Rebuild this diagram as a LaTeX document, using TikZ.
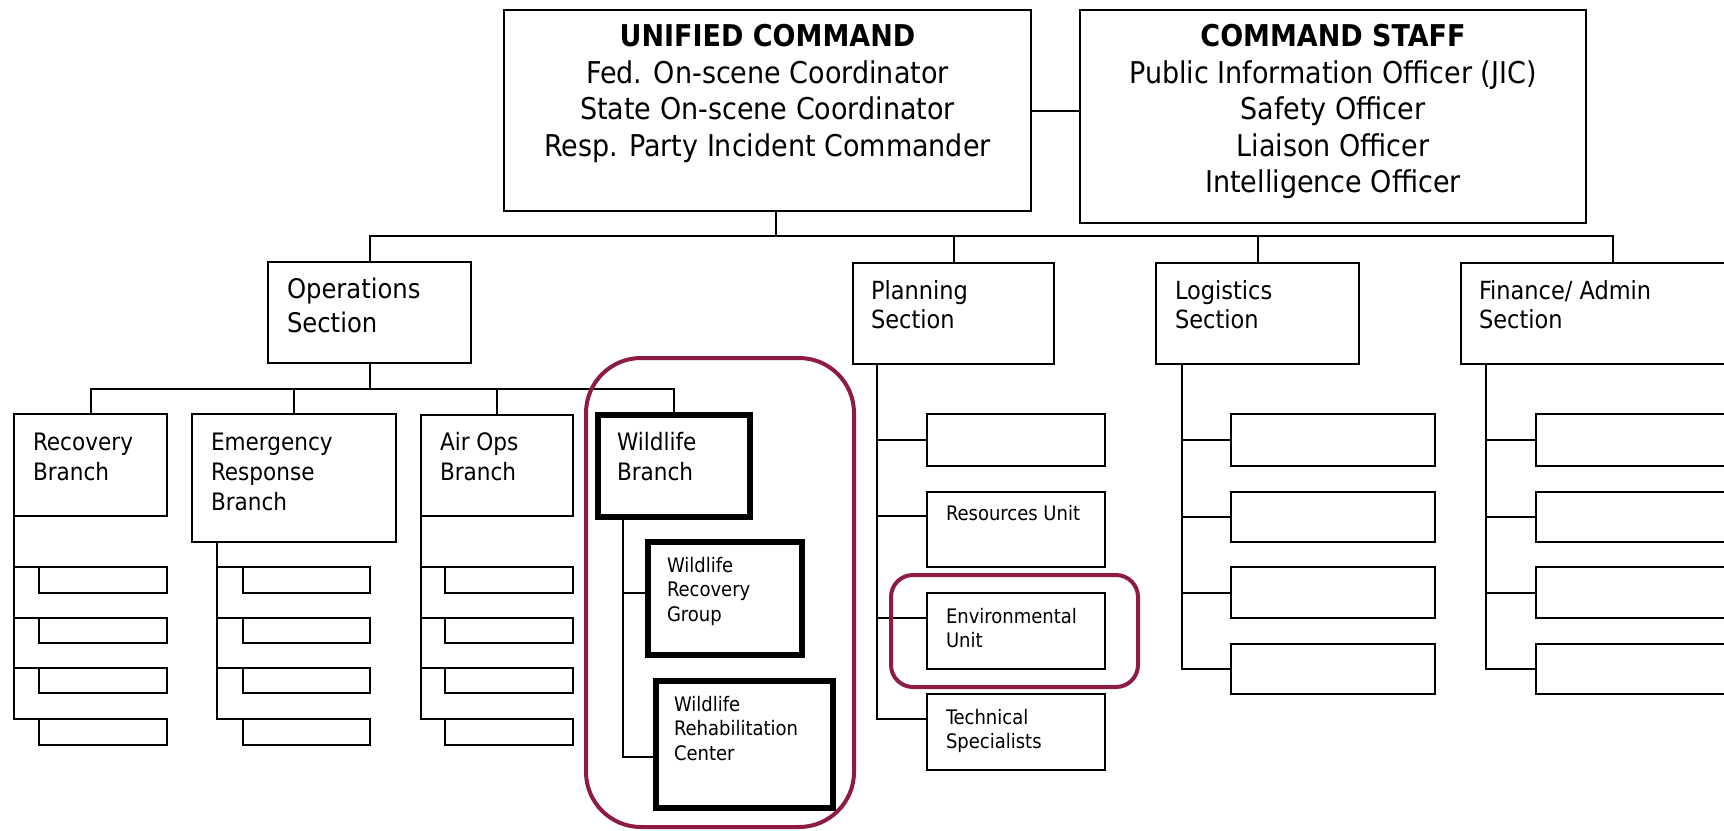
\documentclass[tikz,border=0pt]{standalone}
\usepackage{fontspec}
\setmainfont{DejaVu Sans Condensed}
\definecolor{maroon}{RGB}{142,27,64}
\newcommand\fTop{\fontsize{30}{36.5}\selectfont}
\newcommand\fOps{\fontsize{27}{34}\selectfont}
\newcommand\fSec{\fontsize{25}{29}\selectfont}
\newcommand\fBr{\fontsize{24}{30}\selectfont}
\newcommand\fUnit{\fontsize{20}{23.5}\selectfont}
\newcommand\fGrp{\fontsize{20}{24.5}\selectfont}
\newcommand\mybox[6][]{\node[box,#1,anchor=north west,minimum width={(#5-#3)*1pt},minimum height={(#6-#4)*1pt}] (#2) at (#3,#4) {};}
\begin{document}
\begin{tikzpicture}[x=1pt,y=-1pt,
  box/.style={draw,line width=2.6pt,inner sep=0pt,outer sep=0pt},
  thin/.style={line width=2.2pt},
  thick/.style={line width=5.5pt},
  hl/.style={draw=maroon,line width=4pt,rounded corners=#1},
  conn/.style={draw,line width=2pt},
  tx/.style={anchor=north west,inner sep=0pt,outer sep=0pt,align=left},
  tc/.style={anchor=north,inner sep=0pt,outer sep=0pt,align=center,font=\fTop}]
\useasboundingbox (0,0) rectangle (1724,830);
\clip (0,0) rectangle (1724,830);
% top boxes
\mybox{uc}{504}{10}{1031}{211}
\mybox{cs}{1080}{10}{1586}{223}
\node[tc] (uct) at (767.5,21) {\strut\textbf{UNIFIED COMMAND}\\Fed. On-scene Coordinator\\State On-scene Coordinator\\Resp. Party Incident Commander};
\node[tc] (cst) at (1333,21) {\strut\textbf{COMMAND STAFF}\\Public Information Officer (JIC)\\Safety Officer\\Liaison Officer\\Intelligence Officer};
% sections
\mybox{ops}{268}{262}{471}{363}
\mybox{pln}{853}{263}{1054}{364}
\mybox{lgs}{1156}{263}{1359}{364}
\mybox{fin}{1461}{263}{1765}{364}
\node[tx,font=\fOps] (opst) at (287,274.2) {\strut Operations\\Section};
\node[tx,font=\fSec] (plnt) at (871,278.7) {\strut Planning\\Section};
\node[tx,font=\fSec] (lgst) at (1175,278.7) {\strut Logistics\\Section};
\node[tx,font=\fSec] (fint) at (1479,278.7) {\strut Finance/ Admin\\Section};
% top connectors
\coordinate (j0) at (776,236);
\draw[conn] (j0 |- uc.south) -- (j0);
\draw[conn] (uc.east) -- (uc.east -| cs.west);
\draw[conn] (ops.north) -- (ops.north |- j0) -- (fin.north |- j0) -- (fin.north);
\draw[conn] (pln.north) -- (pln.north |- j0);
\draw[conn] (lgs.north) -- (lgs.north |- j0);
% branches
\mybox{rec}{14}{414}{167}{516}
\mybox{emg}{192}{414}{396}{542}
\mybox{air}{421}{415}{573}{516}
\mybox[thick]{wb}{598}{415}{750}{517}
\node[tx,font=\fBr] (rect) at (33,429) {\strut Recovery\\Branch};
\node[tx,font=\fBr] (emgt) at (211,429) {\strut Emergency\\Response\\Branch};
\node[tx,font=\fBr] (airt) at (440,429) {\strut Air Ops\\Branch};
\node[tx,font=\fBr] (wbt) at (617,429) {\strut Wildlife\\Branch};
\coordinate (j1) at (369.5,389);
\draw[conn] (ops.south) -- (j1);
\draw[conn] (rec.north) -- (rec.north |- j1) -- (wb.north |- j1) -- (wb.north);
\draw[conn] (emg.north) -- (emg.north |- j1);
\draw[conn] (air.north) -- (air.north |- j1);
% branch sub boxes
\foreach \n/\a/\b in {1/567/593,2/618/643,3/668/693,4/719/745}{
  \mybox[thin]{r\n}{39}{\a}{167}{\b}
  \mybox[thin]{e\n}{243}{\a}{370}{\b}
  \mybox[thin]{a\n}{445}{\a}{573}{\b}
}
\draw[conn] (rec.south west) -- (rec.south west |- r4.north west) -- (r4.north west);
\foreach \n in {1,2,3}{\draw[conn] (rec.south west |- r\n.north west) -- (r\n.north west);}
\coordinate (ev) at (217,542);
\draw[conn] (ev) -- (ev |- e4.north west) -- (e4.north west);
\foreach \n in {1,2,3}{\draw[conn] (ev |- e\n.north west) -- (e\n.north west);}
\draw[conn] (air.south west) -- (air.south west |- a4.north west) -- (a4.north west);
\foreach \n in {1,2,3}{\draw[conn] (air.south west |- a\n.north west) -- (a\n.north west);}
% wildlife
\mybox[thick]{wrg}{648}{542}{802}{655}
\mybox[line width=6pt]{wrc}{656}{681}{833}{808}
\node[tx,font=\fGrp] (wrgt) at (667,554.9) {\strut Wildlife\\Recovery\\Group};
\node[tx,font=\fGrp] (wrct) at (674,693.9) {\strut Wildlife\\Rehabilitation\\Center};
\coordinate (wv) at (623,517);
\coordinate (wt1) at (648,593);
\coordinate (wt2) at (656,757);
\draw[conn] (wv) -- (wv |- wt2) -- (wt2);
\draw[conn] (wv |- wt1) -- (wt1);
% planning units
\mybox[thin]{p1}{927}{414}{1105}{466}
\mybox[thin]{p2}{927}{492}{1105}{567}
\mybox[thin]{p3}{927}{593}{1105}{669}
\mybox[thin]{p4}{927}{694}{1105}{770}
\node[tx,font=\fUnit] (p2t) at (946,504.5) {\strut Resources Unit};
\node[tx,font=\fUnit] (p3t) at (946,607.5) {\strut Environmental\\Unit};
\node[tx,font=\fUnit] (p4t) at (946,708.5) {\strut Technical\\Specialists};
\coordinate (pv) at (877,364);
\coordinate (pt2) at (927,516);
\coordinate (pt3) at (927,618);
\coordinate (pt4) at (927,719);
\draw[conn] (pv) -- (pv |- pt4) -- (pt4);
\draw[conn] (pv |- p1.west) -- (p1.west);
\draw[conn] (pv |- pt2) -- (pt2);
\draw[conn] (pv |- pt3) -- (pt3);
% logistics & finance units
\foreach \n/\a/\b in {1/414/466,2/492/542,3/567/618,4/644/694}{
  \mybox[thin]{l\n}{1231}{\a}{1435}{\b}
  \mybox[thin]{f\n}{1536}{\a}{1765}{\b}
}
\coordinate (lv) at (1182,364);
\draw[conn] (lv) -- (lv |- l4.west) -- (l4.west);
\foreach \n in {1,2,3}{\draw[conn] (lv |- l\n.west) -- (l\n.west);}
\coordinate (fv) at (1486,364);
\draw[conn] (fv) -- (fv |- f4.west) -- (f4.west);
\foreach \n in {1,2,3}{\draw[conn] (fv |- f\n.west) -- (f\n.west);}
% highlights
\node[hl=55pt,inner sep=0pt,outer sep=0pt,anchor=north west,minimum width=268pt,minimum height=469pt] (hlw) at (586,358) {};
\node[hl=22pt,inner sep=0pt,outer sep=0pt,anchor=north west,minimum width=247pt,minimum height=112pt] (hle) at (891,575) {};
\end{tikzpicture}
\end{document}
